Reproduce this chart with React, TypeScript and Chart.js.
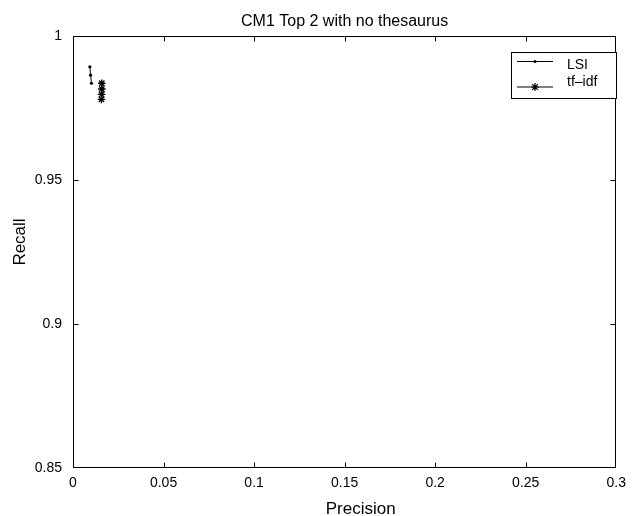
import React, { useEffect, useRef } from 'react';
import { Chart, registerables } from 'chart.js';

Chart.register(...registerables);

const chartTitle = 'CM1 Top 2 with no thesaurus';
const xAxisTitle = 'Precision';
const yAxisTitle = 'Recall';

const lsiLabel = 'LSI';
const lsiPrecision = [0.0093, 0.0097, 0.0102];
const lsiRecall = [0.9893, 0.9864, 0.9836];

const tfidfLabel = 'tf\u2013idf';
const tfidfPrecision = [0.0159, 0.0159, 0.0158, 0.0157];
const tfidfRecall = [0.9836, 0.9816, 0.9797, 0.978];

const xTickValues = [0, 0.05, 0.1, 0.15, 0.2, 0.25, 0.3];
const xTickLabels = ['0', '0.05', '0.1', '0.15', '0.2', '0.25', '0.3'];
const yTickValues = [0.85, 0.9, 0.95, 1];
const yTickLabels = ['0.85', '0.9', '0.95', '1'];

const FONT = "'Liberation Sans', Arial, Helvetica, sans-serif";

const framePlugin = {
  id: 'matlabFrame',
  afterDraw(chart: any) {
    const { ctx, chartArea, scales } = chart;
    const { left, right, top, bottom } = chartArea;
    const xs = scales.x;
    const ys = scales.y;
    ctx.save();
    ctx.strokeStyle = '#000';
    ctx.lineWidth = 1;
    const L = Math.round(left) + 0.5;
    const R = Math.round(right) - 0.5;
    const T = Math.round(top) + 0.5;
    const B = Math.round(bottom) - 0.5;
    ctx.beginPath();
    ctx.rect(L, T, R - L, B - T);
    ctx.stroke();
    const tl = 5;
    ctx.beginPath();
    xTickValues.forEach((v) => {
      const px = Math.min(R, Math.max(L, Math.round(xs.getPixelForValue(v)) + 0.5));
      ctx.moveTo(px, B);
      ctx.lineTo(px, B - tl);
      ctx.moveTo(px, T);
      ctx.lineTo(px, T + tl);
    });
    yTickValues.forEach((v) => {
      const py = Math.min(B, Math.max(T, Math.round(ys.getPixelForValue(v)) + 0.5));
      ctx.moveTo(L, py);
      ctx.lineTo(L + tl, py);
      ctx.moveTo(R, py);
      ctx.lineTo(R - tl, py);
    });
    ctx.stroke();

    // axis titles
    ctx.fillStyle = '#000';
    ctx.font = `17px ${FONT}`;
    ctx.textAlign = 'center';
    ctx.textBaseline = 'middle';
    ctx.fillText(xAxisTitle, (left + right) / 2 + 16, 509);
    ctx.save();
    ctx.translate(20, (top + bottom) / 2 - 10);
    ctx.rotate(-Math.PI / 2);
    ctx.fillText(yAxisTitle, 0, 0);
    ctx.restore();

    // legend
    const bx = 511.5, by = 52.5, bw = 105, bh = 46;
    ctx.fillStyle = '#fff';
    ctx.fillRect(bx, by, bw, bh);
    ctx.strokeStyle = '#000';
    ctx.lineWidth = 1;
    ctx.strokeRect(bx, by, bw, bh);
    const rows = [
      { label: chart.data.datasets[0].label, y: 61.5, ty: 65, marker: 'dot' },
      { label: chart.data.datasets[1].label, y: 87, ty: 82, marker: 'star' },
    ];
    ctx.font = `14px ${FONT}`;
    ctx.textBaseline = 'middle';
    ctx.textAlign = 'left';
    rows.forEach((r) => {
      ctx.strokeStyle = '#000';
      ctx.lineWidth = 1;
      ctx.beginPath();
      ctx.moveTo(517, r.y);
      ctx.lineTo(553, r.y);
      ctx.stroke();
      const mx = 535;
      if (r.marker === 'dot') {
        ctx.fillStyle = '#000';
        ctx.beginPath();
        ctx.arc(mx, r.y, 1.6, 0, Math.PI * 2);
        ctx.fill();
      } else {
        const s = 4;
        ctx.strokeStyle = '#000';
        ctx.lineWidth = 1.2;
        ctx.beginPath();
        ctx.moveTo(mx - s, r.y); ctx.lineTo(mx + s, r.y);
        ctx.moveTo(mx, r.y - s); ctx.lineTo(mx, r.y + s);
        const d = s * 0.72;
        ctx.moveTo(mx - d, r.y - d); ctx.lineTo(mx + d, r.y + d);
        ctx.moveTo(mx - d, r.y + d); ctx.lineTo(mx + d, r.y - d);
        ctx.stroke();
      }
      ctx.fillStyle = '#000';
      ctx.fillText(r.label, 567, r.ty);
    });
    ctx.restore();
  },
};

export default function App() {
  const canvasRef = useRef<HTMLCanvasElement | null>(null);

  useEffect(() => {
    const canvas = canvasRef.current;
    if (!canvas) return;
    Chart.defaults.font.family = FONT;
    Chart.defaults.color = '#000';
    const chart = new Chart(canvas, {
      type: 'scatter',
      data: {
        datasets: [
          {
            label: lsiLabel,
            data: lsiPrecision.map((x, i) => ({ x, y: lsiRecall[i] })),
            showLine: true,
            borderColor: '#000',
            backgroundColor: '#000',
            borderWidth: 1,
            pointStyle: 'circle',
            pointRadius: 1.6,
            pointBorderWidth: 0,
          },
          {
            label: tfidfLabel,
            data: tfidfPrecision.map((x, i) => ({ x, y: tfidfRecall[i] })),
            showLine: true,
            borderColor: '#000',
            backgroundColor: '#000',
            borderWidth: 1,
            pointStyle: 'star',
            pointRadius: 3.8,
            pointBorderWidth: 1.3,
          },
        ],
      },
      options: {
        responsive: false,
        animation: false,
        devicePixelRatio: 1,
        layout: { padding: { left: 0, right: 12, top: 0, bottom: 0 } },
        plugins: {
          legend: { display: false },
          tooltip: { enabled: false },
          title: {
            display: true,
            fullSize: false,
            text: chartTitle,
            color: '#000',
            font: { size: 16, weight: 'normal', family: FONT, lineHeight: 1.2 },
            padding: { top: 12, bottom: 4.8 },
          },
        },
        scales: {
          x: {
            type: 'linear',
            min: 0,
            max: 0.3,
            afterBuildTicks: (scale: any) => {
              scale.ticks = xTickValues.map((v) => ({ value: v }));
            },
            afterFit: (scale: any) => {
              scale.height = 48;
            },
            grid: { display: false, drawTicks: false },
            border: { display: false },
            ticks: {
              padding: 7,
              color: '#000',
              font: { size: 14, family: FONT },
              maxRotation: 0,
              autoSkip: false,
              callback: (_v: any, i: number) => xTickLabels[i],
            },
            title: { display: false, text: xAxisTitle },
          },
          y: {
            type: 'linear',
            min: 0.85,
            max: 1,
            afterBuildTicks: (scale: any) => {
              scale.ticks = yTickValues.map((v) => ({ value: v }));
            },
            afterFit: (scale: any) => {
              scale.width = 73;
            },
            grid: { display: false, drawTicks: false },
            border: { display: false },
            ticks: {
              padding: 11,
              color: '#000',
              font: { size: 14, family: FONT },
              autoSkip: false,
              callback: (_v: any, i: number) => yTickLabels[i],
            },
            title: { display: false, text: yAxisTitle },
          },
        },
      },
      plugins: [framePlugin],
    });
    return () => chart.destroy();
  }, []);

  return (
    <div style={{ position: 'fixed', left: 0, top: 0, width: 633, height: 516, background: '#fff' }}>
      <canvas ref={canvasRef} width={633} height={516} style={{ display: 'block' }} />
    </div>
  );
}
